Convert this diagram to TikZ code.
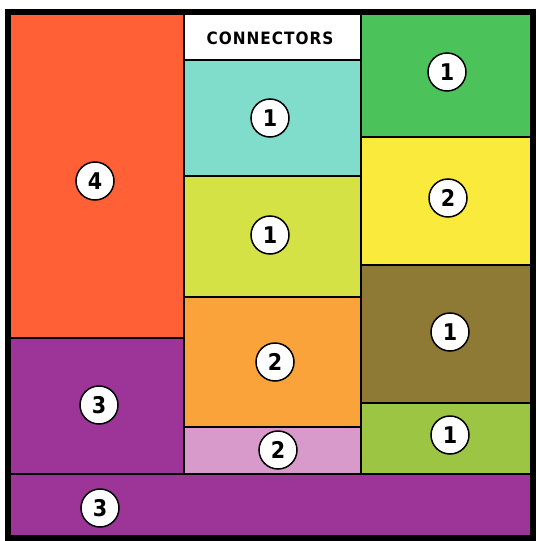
\documentclass[tikz,border=0pt]{standalone}
\usepackage{fontspec}
\setmainfont{Liberation Sans}
\newfontfamily\condfont{DejaVu Sans Condensed}
\definecolor{cRed}{HTML}{FF6035}
\definecolor{cPurple}{HTML}{9C3597}
\definecolor{cCyan}{HTML}{80DDCB}
\definecolor{cYG}{HTML}{D4E245}
\definecolor{cOrange}{HTML}{F9A33A}
\definecolor{cPink}{HTML}{D89ACB}
\definecolor{cGreen}{HTML}{4CC35A}
\definecolor{cYellow}{HTML}{FAEA3C}
\definecolor{cOlive}{HTML}{8E7A35}
\definecolor{cLGreen}{HTML}{9CC543}
\tikzset{
  region/.style={draw=black, line width=1.6pt},
  badge/.style={circle, draw=black, line width=1.5pt, fill=white, minimum size=38pt, inner sep=0pt,
    font=\condfont\bfseries\fontsize{23}{23}\selectfont},
  title/.style={font=\condfont\bfseries\fontsize{17}{17}\selectfont, inner sep=0pt}
}
\begin{document}
\begin{tikzpicture}[x=1pt,y=-1pt]
\useasboundingbox (0,0) rectangle (536,541);
\fill[white] (0,0) rectangle (536,541);
% left column
\filldraw[region, fill=cRed] (10,13) rectangle (184,338);
\filldraw[region, fill=cPurple] (10,338) rectangle (184,474);
% middle column
\filldraw[region, fill=white] (184,13) rectangle (361,60);
\filldraw[region, fill=cCyan] (184,60) rectangle (361,176);
\filldraw[region, fill=cYG] (184,176) rectangle (361,297);
\filldraw[region, fill=cOrange] (184,297) rectangle (361,427);
\filldraw[region, fill=cPink] (184,427) rectangle (361,474);
% right column
\filldraw[region, fill=cGreen] (361,13) rectangle (532,137);
\filldraw[region, fill=cYellow] (361,137) rectangle (532,265);
\filldraw[region, fill=cOlive] (361,265) rectangle (532,403);
\filldraw[region, fill=cLGreen] (361,403) rectangle (532,474);
% bottom strip
\filldraw[region, fill=cPurple] (10,474) rectangle (532,537);
% outer frame
\draw[line width=6pt] (8,12) rectangle (533,538);
% labels
\node[title] (conn) at (270,38) {\addfontfeature{LetterSpace=6}CONNECTORS};
\node[badge] (b4) at (95,181) {4};
\node[badge] (b3a) at (99,405) {3};
\node[badge] (b3b) at (100,508) {3};
\node[badge] (m1a) at (270,118) {1};
\node[badge] (m1b) at (270,235) {1};
\node[badge] (m2a) at (275,362) {2};
\node[badge] (m2b) at (278,450) {2};
\node[badge] (r1a) at (447,72) {1};
\node[badge] (r2) at (448,198) {2};
\node[badge] (r1b) at (450,332) {1};
\node[badge] (r1c) at (450,435) {1};
\end{tikzpicture}
\end{document}
